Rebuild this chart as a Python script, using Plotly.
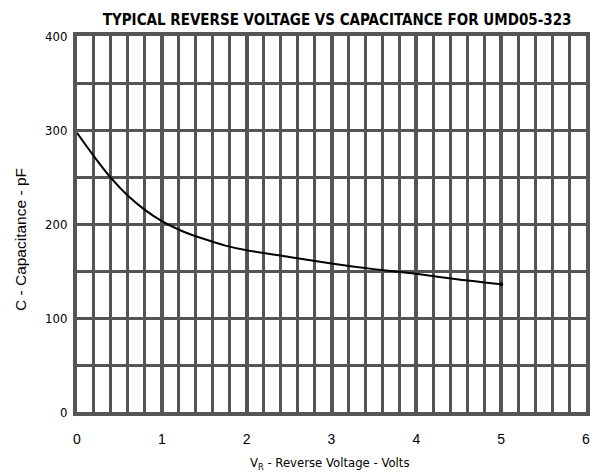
import plotly.graph_objects as go

voltage = [0, 0.2, 0.4, 0.6, 0.8, 1.0, 1.25, 1.5, 1.75, 2.0, 2.5, 3.0, 3.5, 4.0, 4.5, 5.0]
capacitance = [297, 272, 249, 230, 215, 203, 192, 184, 177, 172, 165, 158, 152, 147, 141, 136]

x_ticks = [0, 1, 2, 3, 4, 5, 6]
y_ticks = [0, 100, 200, 300, 400]

GRID = "#555555"
FONT = "DejaVu Sans Condensed, Liberation Sans Narrow, Arial Narrow, Liberation Sans, Arial, sans-serif"
SANS = "Liberation Sans, Arial, sans-serif"

fig = go.Figure()
fig.add_trace(go.Scatter(
    x=voltage, y=capacitance, mode="lines",
    line=dict(color="black", width=2, shape="spline", smoothing=0.8),
    hoverinfo="skip", showlegend=False,
))
fig.add_trace(go.Scatter(
    x=[voltage[-1]], y=[capacitance[-1]], mode="markers",
    marker=dict(color="black", size=4), hoverinfo="skip", showlegend=False,
))

# page body has an 8px default margin, so the figure is sized/positioned to compensate
fig.update_layout(
    width=602, height=466,
    margin=dict(l=69, r=24, t=28, b=62),
    paper_bgcolor="white", plot_bgcolor="white",
    font=dict(family=FONT, size=13, color="black"),
    title=dict(
        text="TYPICAL REVERSE VOLTAGE VS CAPACITANCE FOR UMD05-323",
        xref="paper", x=0.511, xanchor="center", y=0.974, yanchor="middle",
        font=dict(family=FONT, size=15, color="black", weight=600),
    ),
    xaxis=dict(
        range=[0, 6], tickvals=x_ticks, ticktext=[str(v) for v in x_ticks],
        showgrid=True, gridcolor=GRID, gridwidth=4,
        minor=dict(dtick=0.2, showgrid=True, gridcolor=GRID, gridwidth=3),
        showline=True, linecolor=GRID, linewidth=4, mirror=True,
        zeroline=False, ticks="", ticklabelstandoff=11,
        tickfont=dict(family=SANS, size=14),
        fixedrange=True,
    ),
    yaxis=dict(
        range=[0, 400], tickvals=y_ticks, ticktext=[str(v) for v in y_ticks],
        showgrid=True, gridcolor=GRID, gridwidth=3,
        minor=dict(dtick=50, showgrid=True, gridcolor=GRID, gridwidth=3),
        showline=True, linecolor=GRID, linewidth=4, mirror=True,
        zeroline=False, ticks="", ticklabelstandoff=3,
        tickfont=dict(family=FONT, size=13),
        fixedrange=True,
    ),
    annotations=[
        dict(text="V<sub>R</sub> - Reverse Voltage - Volts", xref="paper", yref="paper",
             x=0.497, y=-0.136, xanchor="center", yanchor="middle", showarrow=False,
             font=dict(family=FONT, size=13)),
        dict(text="C - Capacitance - pF", xref="paper", yref="paper",
             x=-0.112, y=0.46, xanchor="center", yanchor="middle", showarrow=False,
             textangle=-90, font=dict(family=SANS, size=15.5)),
    ],
)

fig.write_html("out.html")
